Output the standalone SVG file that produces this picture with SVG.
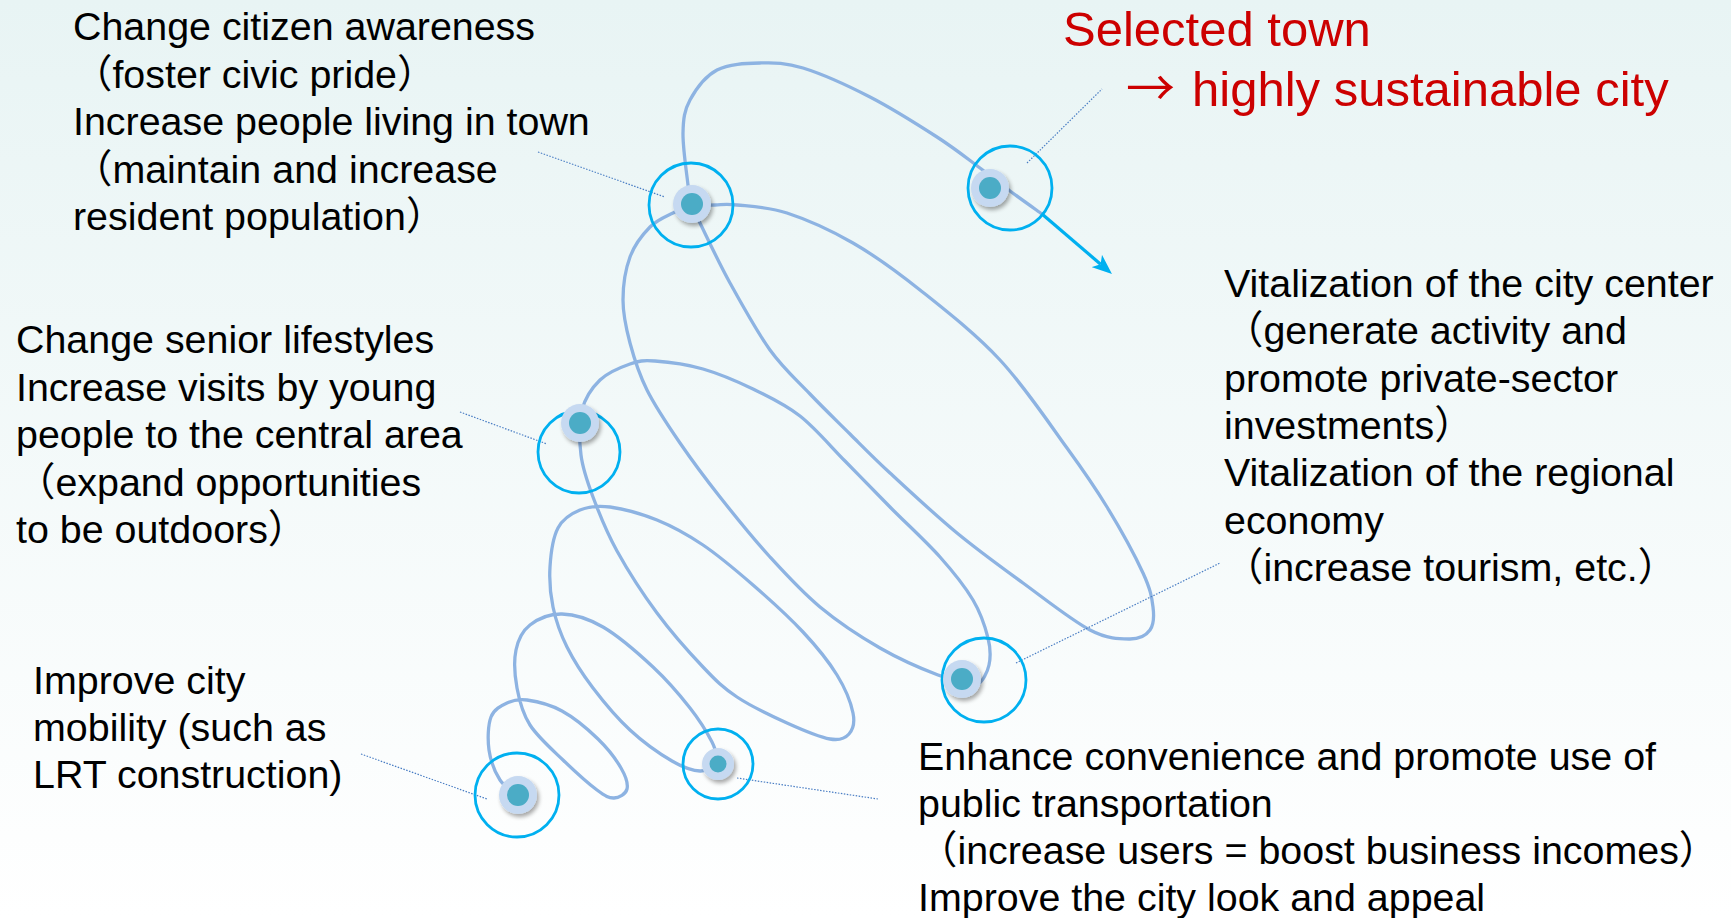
<svg xmlns="http://www.w3.org/2000/svg" width="1731" height="918" viewBox="0 0 1731 918">
<style>
.t{font-family:"Liberation Sans","Noto Sans CJK JP",Arial,sans-serif;font-size:39.4px;fill:#000}
.red{font-family:"Liberation Sans","Noto Sans CJK JP",Arial,sans-serif;font-size:49px;fill:#CC0000}
.arr{font-family:"Noto Sans CJK JP",sans-serif;font-size:49px}
.sp{fill:none;stroke:#8DB3E2;stroke-width:3.3;stroke-linecap:round}
.ld{fill:none;stroke:#4A7EC4;stroke-width:1.2;stroke-dasharray:1.5 1.5}
.ring{fill:none;stroke:#00B0F0;stroke-width:2.8}
.halo{fill:#C6D9F1;filter:url(#sh)}
.dot{fill:#4BACC6}
</style>
<defs>
<linearGradient id="bg" x1="0" y1="0" x2="0" y2="1">
<stop offset="0" stop-color="#E8F4F4"/>
<stop offset="1" stop-color="#FFFFFF"/>
</linearGradient>
<filter id="sh" x="-50%" y="-50%" width="200%" height="200%">
<feGaussianBlur in="SourceAlpha" stdDeviation="2"/>
<feOffset dx="2" dy="3" result="o"/>
<feComponentTransfer><feFuncA type="linear" slope="0.35"/></feComponentTransfer>
<feMerge><feMergeNode/><feMergeNode in="SourceGraphic"/></feMerge>
</filter>
<marker id="ah" markerUnits="userSpaceOnUse" markerWidth="20" markerHeight="16" refX="5" refY="8" orient="auto">
<path d="M0,0 L20,8 L0,16 L5,8 z" fill="#00B0F0"/>
</marker>
</defs>
<rect width="1731" height="918" fill="url(#bg)"/>

<g id="connectors">
<path class="sp" d="M518,795 C515,792.5 504.8,787.5 500,780 S490.5,760.5 489,750 S488,724.8 491,717 S501,705.8 507,703 S517.8,698.7 527,700 S550.2,704.5 562,711 S588.2,729.5 598,739 S616.2,759.7 621,768 S628.2,784 627,789 S619,797.8 614,798 S605.5,796.3 597,790 S574.2,770.8 563,760 S537.7,737 530,725 S519.3,700.5 517,688 S513.8,660.5 516,650 S522.3,631 530,625 S549.8,613.7 562,614 S587.8,618.2 603,627 S638.5,653.5 653,667 S680.2,695.5 690,708 S707.2,732.7 712,742 S717.8,760.3 719,764"/>
<path class="sp" d="M719,764 C715.8,765.2 707.8,771.5 700,771 S683.7,767.8 672,761 S643.2,742.2 630,730 S603.5,701.8 593,688 S573.7,660.5 567,647 S555.8,620.3 553,607 S549.2,580.2 550,567 S553,537.5 558,528 S571.3,513.5 580,510 S597.2,505.3 610,507 S641.5,513.7 657,520 S687,534.2 703,545 S736.3,570.5 753,585 S789,617 803,632 S828.7,661.5 837,675 S851,703.2 853,713 S852.8,729.7 849,734 S840.3,740.8 830,739 S802.5,730 787,723 S751,706.3 737,697 S716.3,681 703,667 S671.3,632.3 657,613 S627.7,570.3 617,551 S599,513 593,497 S582.8,469.5 581,455 S578.8,422.5 582,410 S592,387.7 600,380 S620.8,367.2 630,364 S642.8,360.2 655,361 S686.7,364.3 703,369 S736.8,381.2 753,389 S784.7,404 800,416 S830,445.8 845,461 S874.2,491 890,507 S926.2,541.5 940,557 S965,586.5 973,600 S985.3,627.2 988,638 S990.7,657.3 989,665 S982.5,681.7 978,684 S964.7,679.8 962,679"/>
<path class="sp" d="M962,679 C958,678.3 951.7,680.2 938,675 S899.7,659.3 880,648 S838.3,622.2 820,607 S786.7,575.3 770,557 S735,516 720,497 S692.2,460.8 680,443 S655.3,406.7 647,390 S634,358 630,343 S623,314.3 623,300 S625.5,269.2 630,257 S642.8,234.3 650,227 S666,216.5 673,213 S685,207.3 692,206 S707.5,205.2 715,205 S725,203.7 737,205 S767.7,206.7 787,213 S830.8,230.2 853,243 S895.5,270.5 920,290 S975.5,333.7 1000,360 S1049.2,423.5 1067,448 S1094.3,486.2 1107,507 S1135.3,556.3 1143,573 S1151.8,597.5 1153,607 S1153.8,624.7 1150,630 S1140,639 1130,639 S1107.8,639.3 1090,630 S1045.2,599.2 1023,583 S979.2,551.3 957,533 S907.8,489.5 890,473 S863.3,447.2 850,434 S823.3,408 810,394 S783.3,368.5 770,350 S741.7,304.2 730,283 S706.5,236.2 700,223 S693,210.3 691,204 S689.3,196.8 688,185 S682.7,147.2 683,133 S684.3,110.5 690,100 S705.3,76.2 717,70 S745.7,63.3 760,63 S784.7,62.3 803,68 S847.7,85.5 870,97 S918.7,125.2 937,137 S967.8,159 980,168 S999.7,183.3 1010,191 S1036.7,210.2 1042,214"/>
<line x1="1042" y1="214" x2="1100.6" y2="264.2" stroke="#00B0F0" stroke-width="3.2" marker-end="url(#ah)"/>
<line class="ld" x1="538" y1="152" x2="665" y2="197"/>
<line class="ld" x1="460" y1="412" x2="547" y2="444"/>
<line class="ld" x1="361" y1="754" x2="487" y2="799"/>
<line class="ld" x1="737" y1="778" x2="878" y2="799"/>
<line class="ld" x1="1016" y1="663" x2="1220" y2="563"/>
<line class="ld" x1="1027" y1="163" x2="1102" y2="89"/>
</g>

<g id="node-a">
<circle class="ring" cx="691" cy="205" r="42"/>
<circle class="halo" cx="692" cy="204" r="19"/>
<circle class="dot" cx="692" cy="204" r="11"/>
</g>
<g id="node-b">
<circle class="ring" cx="1010" cy="188" r="42"/>
<circle class="halo" cx="990" cy="188" r="19"/>
<circle class="dot" cx="990" cy="188" r="11"/>
</g>
<g id="node-c">
<circle class="ring" cx="579" cy="452" r="41"/>
<circle class="halo" cx="580" cy="423" r="19"/>
<circle class="dot" cx="580" cy="423" r="11"/>
</g>
<g id="node-d">
<circle class="ring" cx="984" cy="680" r="42"/>
<circle class="halo" cx="962" cy="679" r="19"/>
<circle class="dot" cx="962" cy="679" r="11"/>
</g>
<g id="node-e">
<circle class="ring" cx="718" cy="764" r="35"/>
<circle class="halo" cx="718" cy="764" r="16"/>
<circle class="dot" cx="718" cy="764" r="8.5"/>
</g>
<g id="node-f">
<circle class="ring" cx="517" cy="795" r="42"/>
<circle class="halo" cx="518" cy="795" r="19"/>
<circle class="dot" cx="518" cy="795" r="11"/>
</g>

<g id="title">
<text class="red" x="1063" y="46">Selected town</text>
<text class="red" y="106"><tspan class="arr" x="1126">→</tspan><tspan x="1192">highly sustainable city</tspan></text>
</g>
<g id="label-top-left">
<text class="t" x="73" y="40">Change citizen awareness</text>
<text class="t" x="73" y="87.5">（foster civic pride）</text>
<text class="t" x="73" y="135">Increase people living in town</text>
<text class="t" x="73" y="182.5">（maintain and increase</text>
<text class="t" x="73" y="230">resident population）</text>
</g>
<g id="label-left">
<text class="t" x="16" y="353">Change senior lifestyles</text>
<text class="t" x="16" y="400.5">Increase visits by young</text>
<text class="t" x="16" y="448">people to the central area</text>
<text class="t" x="16" y="495.5">（expand opportunities</text>
<text class="t" x="16" y="543">to be outdoors）</text>
</g>
<g id="label-right">
<text class="t" x="1224" y="297">Vitalization of the city center</text>
<text class="t" x="1224" y="344.3">（generate activity and</text>
<text class="t" x="1224" y="391.6">promote private-sector</text>
<text class="t" x="1224" y="438.9">investments）</text>
<text class="t" x="1224" y="486.2">Vitalization of the regional</text>
<text class="t" x="1224" y="533.5">economy</text>
<text class="t" x="1224" y="580.8">（increase tourism, etc.）</text>
</g>
<g id="label-bottom-left">
<text class="t" x="33" y="694">Improve city</text>
<text class="t" x="33" y="741">mobility (such as</text>
<text class="t" x="33" y="788">LRT construction)</text>
</g>
<g id="label-bottom-right">
<text class="t" x="918" y="770">Enhance convenience and promote use of</text>
<text class="t" x="918" y="817">public transportation</text>
<text class="t" x="918" y="864">（increase users = boost business incomes）</text>
<text class="t" x="918" y="911">Improve the city look and appeal</text>
</g>
</svg>
